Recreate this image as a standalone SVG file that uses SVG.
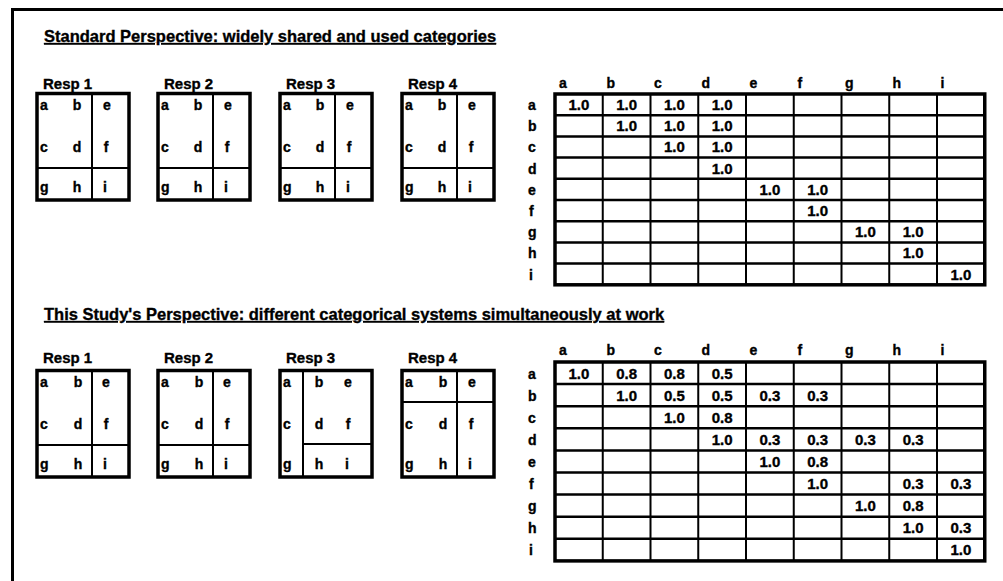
<svg xmlns="http://www.w3.org/2000/svg" width="1003" height="581" viewBox="0 0 1003 581">
<style>
.t{font-family:"Liberation Sans",Arial,sans-serif;font-weight:bold;fill:#000;stroke:#000;stroke-width:0.35}
.ttl{font-size:16.5px;text-decoration:underline}
.rl{font-size:15px}
.l{font-size:14px}
.v{font-size:15px;text-anchor:middle}
.m{text-anchor:middle}
.box{fill:#fff;stroke:#000;stroke-width:3.5}
.dv{stroke:#000;stroke-width:2;fill:none}
.hl{stroke:#000;stroke-width:2.5;fill:none}
.vl{stroke:#000;stroke-width:2;fill:none}
.frame{stroke:#000;stroke-width:3;fill:none}
</style>
<rect width="1003" height="581" fill="#fff"/>
<path class="frame" d="M12.5 581 V9.5 H1003"/>

<g id="title-standard"><text class="t ttl" x="44" y="42">Standard Perspective: widely shared and used categories</text></g>
<g id="title-study"><text class="t ttl" x="44" y="320">This Study's Perspective: different categorical systems simultaneously at work</text></g>

<!-- Top resp boxes -->
<g id="top-resp1">
<text class="t rl" x="43" y="89">Resp 1</text>
<rect class="box" x="37" y="93.5" width="92" height="106.5"/>
<path class="dv" d="M92 93.5 V200 M37 168 H129"/>
<g class="t l"><text x="40" y="110">a</text><text x="77" y="110" class="m">b</text><text x="107" y="110" class="m">e</text>
<text x="40" y="152">c</text><text x="77" y="152" class="m">d</text><text x="106" y="152" class="m">f</text>
<text x="40" y="192">g</text><text x="77" y="192" class="m">h</text><text x="105" y="192" class="m">i</text></g>
</g>
<g id="top-resp2">
<text class="t rl" x="164" y="89">Resp 2</text>
<rect class="box" x="158" y="93.5" width="92" height="106.5"/>
<path class="dv" d="M213 93.5 V200 M158 168 H250"/>
<g class="t l"><text x="161" y="110">a</text><text x="198" y="110" class="m">b</text><text x="228" y="110" class="m">e</text>
<text x="161" y="152">c</text><text x="198" y="152" class="m">d</text><text x="227" y="152" class="m">f</text>
<text x="161" y="192">g</text><text x="198" y="192" class="m">h</text><text x="226" y="192" class="m">i</text></g>
</g>
<g id="top-resp3">
<text class="t rl" x="286" y="89">Resp 3</text>
<rect class="box" x="280" y="93.5" width="92" height="106.5"/>
<path class="dv" d="M335 93.5 V200 M280 168 H372"/>
<g class="t l"><text x="283" y="110">a</text><text x="320" y="110" class="m">b</text><text x="350" y="110" class="m">e</text>
<text x="283" y="152">c</text><text x="320" y="152" class="m">d</text><text x="349" y="152" class="m">f</text>
<text x="283" y="192">g</text><text x="320" y="192" class="m">h</text><text x="348" y="192" class="m">i</text></g>
</g>
<g id="top-resp4">
<text class="t rl" x="408" y="89">Resp 4</text>
<rect class="box" x="402" y="93.5" width="92" height="106.5"/>
<path class="dv" d="M457 93.5 V200 M402 168 H494"/>
<g class="t l"><text x="405" y="110">a</text><text x="442" y="110" class="m">b</text><text x="472" y="110" class="m">e</text>
<text x="405" y="152">c</text><text x="442" y="152" class="m">d</text><text x="471" y="152" class="m">f</text>
<text x="405" y="192">g</text><text x="442" y="192" class="m">h</text><text x="470" y="192" class="m">i</text></g>
</g>

<!-- Bottom resp boxes -->
<g id="bottom-resp1">
<text class="t rl" x="43" y="363">Resp 1</text>
<rect class="box" x="37" y="370.5" width="92" height="106.5"/>
<path class="dv" d="M92 370.5 V477 M37 445 H129"/>
<g class="t l"><text x="40" y="387">a</text><text x="78" y="387" class="m">b</text><text x="106" y="387" class="m">e</text>
<text x="40" y="429">c</text><text x="78" y="429" class="m">d</text><text x="106" y="429" class="m">f</text>
<text x="40" y="469">g</text><text x="78" y="469" class="m">h</text><text x="105" y="469" class="m">i</text></g>
</g>
<g id="bottom-resp2">
<text class="t rl" x="164" y="363">Resp 2</text>
<rect class="box" x="158" y="370.5" width="92" height="106.5"/>
<path class="dv" d="M213 370.5 V477 M158 445 H250"/>
<g class="t l"><text x="161" y="387">a</text><text x="199" y="387" class="m">b</text><text x="227" y="387" class="m">e</text>
<text x="161" y="429">c</text><text x="199" y="429" class="m">d</text><text x="227" y="429" class="m">f</text>
<text x="161" y="469">g</text><text x="199" y="469" class="m">h</text><text x="226" y="469" class="m">i</text></g>
</g>
<g id="bottom-resp3">
<text class="t rl" x="286" y="363">Resp 3</text>
<rect class="box" x="280" y="370.5" width="92" height="106.5"/>
<path class="dv" d="M303 370.5 V477 M303 444 H372"/>
<g class="t l"><text x="283" y="387">a</text><text x="319" y="387" class="m">b</text><text x="348" y="387" class="m">e</text>
<text x="283" y="429">c</text><text x="319" y="429" class="m">d</text><text x="348" y="429" class="m">f</text>
<text x="283" y="469">g</text><text x="319" y="469" class="m">h</text><text x="347" y="469" class="m">i</text></g>
</g>
<g id="bottom-resp4">
<text class="t rl" x="408" y="363">Resp 4</text>
<rect class="box" x="402" y="370.5" width="92" height="106.5"/>
<path class="dv" d="M457 370.5 V477 M402 402 H494"/>
<g class="t l"><text x="405" y="387">a</text><text x="443" y="387" class="m">b</text><text x="472" y="387" class="m">e</text>
<text x="405" y="429">c</text><text x="443" y="429" class="m">d</text><text x="471" y="429" class="m">f</text>
<text x="405" y="469">g</text><text x="443" y="469" class="m">h</text><text x="470" y="469" class="m">i</text></g>
</g>

<!-- Top matrix -->
<g id="top-matrix">
<g class="t l">
<text x="559" y="88">a</text><text x="606.5" y="88">b</text><text x="654" y="88">c</text><text x="701.5" y="88">d</text><text x="749.5" y="88">e</text><text x="797.5" y="88">f</text><text x="845" y="88">g</text><text x="892.5" y="88">h</text><text x="940.5" y="88">i</text>
<text x="528" y="110">a</text><text x="528" y="131.2">b</text><text x="528" y="152.4">c</text><text x="528" y="173.6">d</text><text x="528" y="194.8">e</text><text x="529" y="216">f</text><text x="528" y="237.2">g</text><text x="528" y="258.4">h</text><text x="529" y="279.6">i</text>
</g>
<rect fill="#fff" stroke="none" x="555" y="94" width="429.75" height="190.8"/>
<path class="hl" d="M555 115.2 H984.75 M555 136.4 H984.75 M555 157.6 H984.75 M555 178.8 H984.75 M555 200 H984.75 M555 221.2 H984.75 M555 242.4 H984.75 M555 263.6 H984.75"/>
<path class="vl" d="M602.75 94 V284.8 M650.5 94 V284.8 M698.25 94 V284.8 M746 94 V284.8 M793.75 94 V284.8 M841.5 94 V284.8 M889.25 94 V284.8 M937 94 V284.8"/>
<rect class="box" style="fill:none" x="555" y="94" width="429.75" height="190.8"/>
<g class="t v">
<text x="578.9" y="110">1.0</text><text x="626.6" y="110">1.0</text><text x="674.4" y="110">1.0</text><text x="722.1" y="110">1.0</text>
<text x="626.6" y="131.2">1.0</text><text x="674.4" y="131.2">1.0</text><text x="722.1" y="131.2">1.0</text>
<text x="674.4" y="152.4">1.0</text><text x="722.1" y="152.4">1.0</text>
<text x="722.1" y="173.6">1.0</text>
<text x="769.9" y="194.8">1.0</text><text x="817.6" y="194.8">1.0</text>
<text x="817.6" y="216">1.0</text>
<text x="865.4" y="237.2">1.0</text><text x="913.1" y="237.2">1.0</text>
<text x="913.1" y="258.4">1.0</text>
<text x="960.9" y="279.6">1.0</text>
</g>
</g>

<!-- Bottom matrix -->
<g id="bottom-matrix">
<g class="t l">
<text x="559" y="355">a</text><text x="606.5" y="355">b</text><text x="654" y="355">c</text><text x="701.5" y="355">d</text><text x="749.5" y="355">e</text><text x="797.5" y="355">f</text><text x="845" y="355">g</text><text x="892.5" y="355">h</text><text x="940.5" y="355">i</text>
<text x="528" y="378.5">a</text><text x="528" y="400.6">b</text><text x="528" y="422.7">c</text><text x="528" y="444.8">d</text><text x="528" y="466.9">e</text><text x="529" y="489">f</text><text x="528" y="511.1">g</text><text x="528" y="533.2">h</text><text x="529" y="555.3">i</text>
</g>
<rect fill="#fff" stroke="none" x="555" y="362" width="429.75" height="198.9"/>
<path class="hl" d="M555 384.1 H984.75 M555 406.2 H984.75 M555 428.3 H984.75 M555 450.4 H984.75 M555 472.5 H984.75 M555 494.6 H984.75 M555 516.7 H984.75 M555 538.8 H984.75"/>
<path class="vl" d="M602.75 362 V560.9 M650.5 362 V560.9 M698.25 362 V560.9 M746 362 V560.9 M793.75 362 V560.9 M841.5 362 V560.9 M889.25 362 V560.9 M937 362 V560.9"/>
<rect class="box" style="fill:none" x="555" y="362" width="429.75" height="198.9"/>
<g class="t v">
<text x="578.9" y="378.5">1.0</text><text x="626.6" y="378.5">0.8</text><text x="674.4" y="378.5">0.8</text><text x="722.1" y="378.5">0.5</text>
<text x="626.6" y="400.6">1.0</text><text x="674.4" y="400.6">0.5</text><text x="722.1" y="400.6">0.5</text><text x="769.9" y="400.6">0.3</text><text x="817.6" y="400.6">0.3</text>
<text x="674.4" y="422.7">1.0</text><text x="722.1" y="422.7">0.8</text>
<text x="722.1" y="444.8">1.0</text><text x="769.9" y="444.8">0.3</text><text x="817.6" y="444.8">0.3</text><text x="865.4" y="444.8">0.3</text><text x="913.1" y="444.8">0.3</text>
<text x="769.9" y="466.9">1.0</text><text x="817.6" y="466.9">0.8</text>
<text x="817.6" y="489">1.0</text><text x="913.1" y="489">0.3</text><text x="960.9" y="489">0.3</text>
<text x="865.4" y="511.1">1.0</text><text x="913.1" y="511.1">0.8</text>
<text x="913.1" y="533.2">1.0</text><text x="960.9" y="533.2">0.3</text>
<text x="960.9" y="555.3">1.0</text>
</g>
</g>
</svg>
